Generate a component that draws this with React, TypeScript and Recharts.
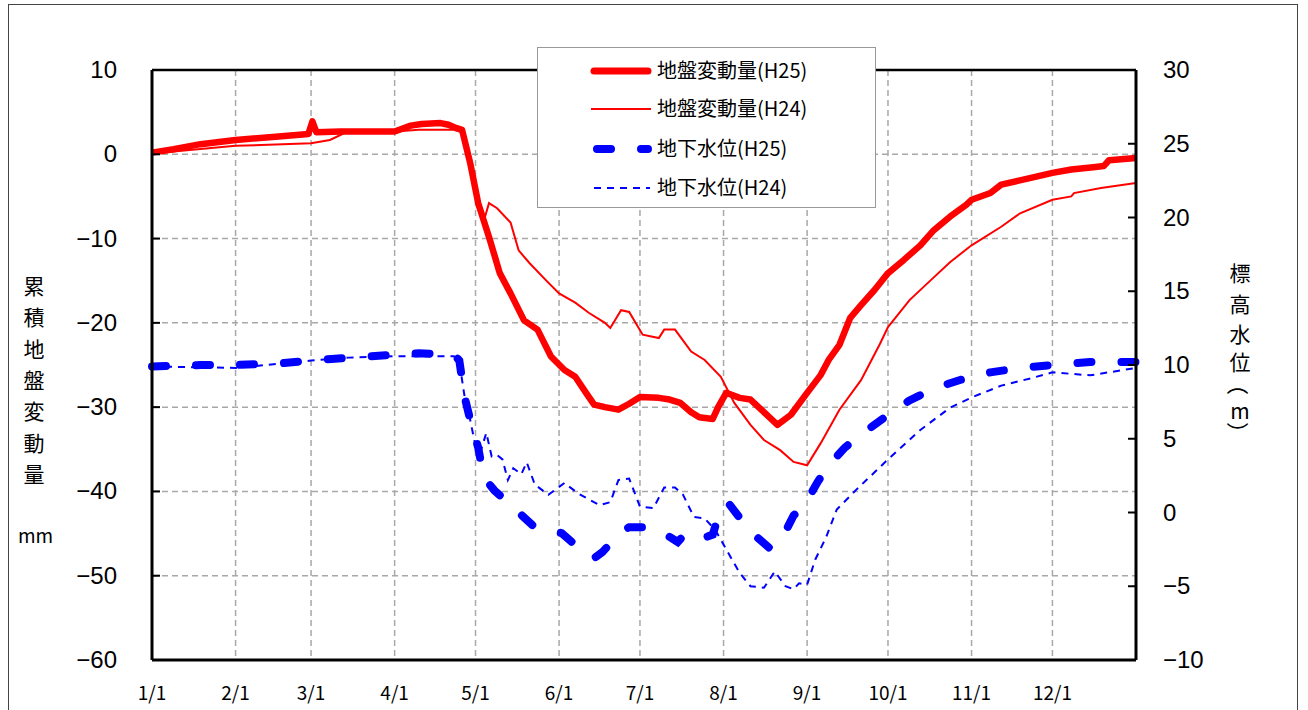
import React from "react";
import {
  LineChart,
  Line,
  XAxis,
  YAxis,
  CartesianGrid,
  ReferenceLine,
  Legend,
} from "recharts";

// ---- categories / ticks ----
const monthTicks = [0, 31, 59, 90, 120, 151, 181, 212, 243, 273, 304, 334];
const monthLabels = ["1/1", "2/1", "3/1", "4/1", "5/1", "6/1", "7/1", "8/1", "9/1", "10/1", "11/1", "12/1"];
const leftTicks = [10, 0, -10, -20, -30, -40, -50, -60];
const rightTicks = [30, 25, 20, 15, 10, 5, 0, -5, -10];

// ---- series: [day of year, value] ----
const groundH25: [number, number][] = [
  [0, 0.2], [8, 0.6], [18, 1.2], [31, 1.7], [47, 2.1], [58, 2.4], [59.5, 3.9], [61, 2.6], [70, 2.7], [90, 2.7],
  [96, 3.4], [100, 3.6], [107, 3.7], [110, 3.5], [113, 3.1], [115, 2.9], [118, -1.0], [121, -5.8], [125, -9.8],
  [129, -14.1], [133, -16.5], [138, -19.7], [143, -20.8], [148, -24.0], [153, -25.6], [157, -26.4], [161, -28.3],
  [164, -29.7], [168, -30.0], [173, -30.3], [177, -29.6], [181, -28.8], [188, -28.9], [192, -29.1], [196, -29.5],
  [200, -30.6], [203, -31.2], [208, -31.4], [210, -30.0], [213, -28.3], [218, -28.9], [222, -29.1], [227, -30.6],
  [232, -32.1], [237, -30.9], [243, -28.3], [248, -26.2], [251, -24.4], [255, -22.6], [259, -19.4], [263, -17.9],
  [268, -16.1], [273, -14.1], [279, -12.5], [285, -10.8], [290, -9.0], [296, -7.4], [302, -6.0], [304, -5.4],
  [311, -4.6], [315, -3.6], [326, -2.8], [334, -2.2], [341, -1.8], [350, -1.5], [353, -1.4], [355, -0.7], [365, -0.45],
];

const groundH24: [number, number][] = [
  [0, 0.1], [31, 1.0], [59, 1.3], [66, 1.7], [72, 2.6], [90, 2.7], [99, 2.9], [112, 2.9], [115, 2.6], [118, -1.0],
  [121, -5.8], [123, -8.0], [125, -5.8], [128, -6.4], [133, -8.1], [136, -11.4], [140, -12.9], [146, -14.9],
  [151, -16.5], [157, -17.6], [162, -18.8], [168, -20.0], [170, -20.6], [174, -18.5], [177, -18.7], [182, -21.4],
  [188, -21.8], [190, -20.8], [194, -20.8], [200, -23.4], [205, -24.4], [211, -26.4], [216, -29.5], [222, -32.1],
  [227, -33.9], [233, -35.1], [238, -36.5], [243, -36.9], [248, -34.3], [255, -30.3], [263, -26.8], [270, -22.5],
  [273, -20.5], [281, -17.3], [289, -14.9], [296, -12.8], [304, -10.8], [315, -8.6], [322, -7.0], [334, -5.4],
  [341, -5.0], [342, -4.6], [352, -4.0], [365, -3.4],
];

const waterH25: [number, number][] = [
  [0, 9.9], [18, 10.0], [31, 10.0], [47, 10.1], [59, 10.3], [73, 10.5], [90, 10.7], [99, 10.8], [112, 10.7],
  [114, 10.3], [116, 7.8], [118, 6.3], [121, 4.4], [123, 2.4], [127, 1.5], [133, 0.5], [136, 0.0], [142, -1.0],
  [152, -1.4], [157, -2.2], [164, -3.1], [167, -2.7], [174, -1.3], [177, -1.0], [184, -1.0], [188, -1.2],
  [195, -2.0], [198, -1.4], [205, -1.7], [208, -1.5], [211, 0.3], [214, 0.6], [219, -0.6], [222, -1.3],
  [229, -2.4], [233, -2.0], [238, -0.2], [242, 0.5], [247, 2.1], [251, 3.2], [257, 4.4], [263, 5.3], [273, 6.6],
  [281, 7.6], [290, 8.4], [300, 9.0], [311, 9.5], [322, 9.8], [334, 10.0], [348, 10.2], [365, 10.2],
];

const waterH24: [number, number][] = [
  [0, 9.9], [31, 9.8], [59, 10.3], [73, 10.5], [90, 10.6], [112, 10.6], [114, 10.2], [116, 7.8], [118, 6.3],
  [121, 3.6], [124, 5.4], [126, 3.8], [128, 3.9], [130, 3.6], [132, 2.2], [134, 3.0], [137, 2.6], [139, 3.4],
  [142, 1.9], [147, 1.2], [153, 2.0], [158, 1.3], [166, 0.5], [170, 0.7], [173, 2.2], [177, 2.3], [181, 0.4],
  [186, 0.3], [190, 1.7], [194, 1.7], [197, 1.2], [201, -0.3], [205, -0.4], [209, -1.2], [213, -2.5], [218, -4.1],
  [222, -5.0], [227, -5.1], [231, -4.0], [235, -5.0], [238, -5.2], [240, -4.8], [243, -4.9], [246, -3.2],
  [250, -1.7], [254, 0.2], [261, 1.5], [273, 3.6], [285, 5.6], [296, 7.1], [304, 7.8], [315, 8.6], [326, 9.1],
  [334, 9.5], [348, 9.3], [365, 9.8],
];

const seriesNames = ["地盤変動量(H25)", "地盤変動量(H24)", "地下水位(H25)", "地下水位(H24)"];
const leftTitle = ["累", "積", "地", "盤", "変", "動", "量"];
const leftUnit = "mm";
const rightTitle = ["標", "高", "水", "位", "（", "m", "）"];

const toRows = (arr: [number, number][]) => arr.map(([day, v]) => ({ day, v }));

const NUM_FONT = "'Liberation Sans', Arial, sans-serif";
const JP_FONT = "'Noto Sans CJK JP', sans-serif";

const fmt = (v: number) => (v < 0 ? "\u2212" + Math.abs(v) : String(v));

const LeftTick = (props: any) => {
  const { x, y, payload } = props;
  const ax = x + 35;
  return (
    <g>
      <line x1={ax} x2={ax + 8} y1={y} y2={y} stroke="#000" strokeWidth={2} />
      <text x={x} y={y} dy={8} textAnchor="end" fontSize={24} fontFamily={NUM_FONT} fill="#000">
        {fmt(payload.value)}
      </text>
    </g>
  );
};

const RightTick = (props: any) => {
  const { x, y, payload } = props;
  const ax = x - 27;
  return (
    <g>
      <line x1={ax} x2={ax - 8} y1={y} y2={y} stroke="#000" strokeWidth={2} />
      <text x={x} y={y} dy={8} textAnchor="start" fontSize={24} fontFamily={NUM_FONT} fill="#000">
        {fmt(payload.value)}
      </text>
    </g>
  );
};

const BottomTick = (props: any) => {
  const { x, y, payload, index } = props;
  return (
    <text x={x} y={y + 40} textAnchor="middle" fontSize={19} fontFamily={JP_FONT} fill="#000">
      {monthLabels[index] ?? payload.value}
    </text>
  );
};

const LegendBox = () => {
  const rows = [23, 61, 101, 140];
  return (
    <div style={{ width: 337, height: 159, border: "1px solid #999", background: "#fff" }}>
      <svg width={337} height={159}>
        <line x1={56} x2={110} y1={rows[0]} y2={rows[0]} stroke="#ff0000" strokeWidth={7} strokeLinecap="round" />
        <line x1={53} x2={113} y1={rows[1]} y2={rows[1]} stroke="#ff0000" strokeWidth={2} />
        <line x1={59} x2={110} y1={rows[2]} y2={rows[2]} stroke="#0000ff" strokeWidth={8} strokeLinecap="round" strokeDasharray="14 30" />
        <line x1={56} x2={112} y1={rows[3]} y2={rows[3]} stroke="#0000ff" strokeWidth={2} strokeDasharray="7 6" />
        {seriesNames.map((n, i) => (
          <text key={n} x={119} y={rows[i]} dy={7} fontSize={20} fontFamily={JP_FONT} fill="#000">
            {n}
          </text>
        ))}
      </svg>
    </div>
  );
};

// vertical title glyph placement (centre y in px) for the right axis title
const rightTitleCentres = [272, 303, 333, 361, 384, 410, 433];

export default function App() {
  return (
    <div style={{ position: "absolute", left: 0, top: 0, width: 1308, height: 710, overflow: "hidden", background: "#fff" }}>
      <div
        style={{
          position: "absolute",
          left: 8,
          top: 4,
          width: 1290,
          height: 730,
          border: "1px solid #444",
          boxSizing: "border-box",
        }}
      />
      <div style={{ position: "absolute", left: 0, top: 0 }}>
        <LineChart width={1308} height={710} margin={{ top: 70, right: 0, bottom: 0, left: 0 }}>
          <CartesianGrid yAxisId="left" stroke="#a8a8a8" strokeWidth={1.5} strokeDasharray="6 4" />
          <XAxis
            type="number"
            dataKey="day"
            domain={[0, 365]}
            ticks={monthTicks}
            interval={0}
            allowDuplicatedCategory={false}
            height={50}
            tickSize={0}
            tickMargin={0}
            axisLine={{ stroke: "#000", strokeWidth: 3 }}
            tickLine={false}
            tick={<BottomTick />}
          />
          <YAxis
            yAxisId="left"
            orientation="left"
            domain={[-60, 10]}
            ticks={leftTicks}
            interval={0}
            width={152}
            tickSize={0}
            tickMargin={35}
            axisLine={{ stroke: "#000", strokeWidth: 3 }}
            tickLine={false}
            tick={<LeftTick />}
          />
          <YAxis
            yAxisId="right"
            orientation="right"
            domain={[-10, 30]}
            ticks={rightTicks}
            interval={0}
            width={172}
            tickSize={0}
            tickMargin={27}
            axisLine={{ stroke: "#000", strokeWidth: 3 }}
            tickLine={false}
            tick={<RightTick />}
          />
          <ReferenceLine yAxisId="left" y={10} stroke="#000" strokeWidth={2.5} />
          <Line
            yAxisId="right"
            data={toRows(waterH24)}
            dataKey="v"
            name={seriesNames[3]}
            stroke="#0000ff"
            strokeWidth={2}
            strokeDasharray="7 6"
            dot={false}
            type="linear"
            isAnimationActive={false}
          />
          <Line
            yAxisId="right"
            data={toRows(waterH25)}
            dataKey="v"
            name={seriesNames[2]}
            stroke="#0000ff"
            strokeWidth={8}
            strokeLinecap="round"
            strokeDasharray="14 30"
            dot={false}
            type="linear"
            isAnimationActive={false}
          />
          <Line
            yAxisId="left"
            data={toRows(groundH24)}
            dataKey="v"
            name={seriesNames[1]}
            stroke="#ff0000"
            strokeWidth={2}
            dot={false}
            type="linear"
            isAnimationActive={false}
          />
          <Line
            yAxisId="left"
            data={toRows(groundH25)}
            dataKey="v"
            name={seriesNames[0]}
            stroke="#ff0000"
            strokeWidth={6.5}
            strokeLinejoin="round"
            dot={false}
            type="linear"
            isAnimationActive={false}
          />
          <Legend
            layout="vertical"
            align="center"
            verticalAlign="middle"
            wrapperStyle={{ left: 537, top: 47, width: 339, height: 161 }}
            content={<LegendBox />}
          />
        </LineChart>
      </div>
      {leftTitle.map((c, i) => (
        <div
          key={"l" + i}
          style={{
            position: "absolute",
            left: 22,
            top: 272 + i * 31.3,
            width: 24,
            textAlign: "center",
            fontSize: 21,
            lineHeight: "26px",
            fontFamily: JP_FONT,
            color: "#000",
          }}
        >
          {c}
        </div>
      ))}
      <div
        style={{
          position: "absolute",
          left: 18,
          top: 522,
          width: 32,
          textAlign: "center",
          fontSize: 19,
          lineHeight: "26px",
          fontFamily: JP_FONT,
          color: "#000",
        }}
      >
        {leftUnit}
      </div>
      <svg style={{ position: "absolute", left: 1220, top: 250 }} width={40} height={200}>
        {rightTitle.map((c, i) => {
          const cy = rightTitleCentres[i] - 250;
          const isParen = i === 4 || i === 6;
          return (
            <text
              key={"r" + i}
              x={20}
              y={cy}
              textAnchor="middle"
              dominantBaseline="central"
              fontSize={isParen ? 22 : 21}
              fontFamily={JP_FONT}
              fill="#000"
              transform={isParen ? `rotate(90 20 ${cy})` : undefined}
            >
              {c}
            </text>
          );
        })}
      </svg>
    </div>
  );
}
